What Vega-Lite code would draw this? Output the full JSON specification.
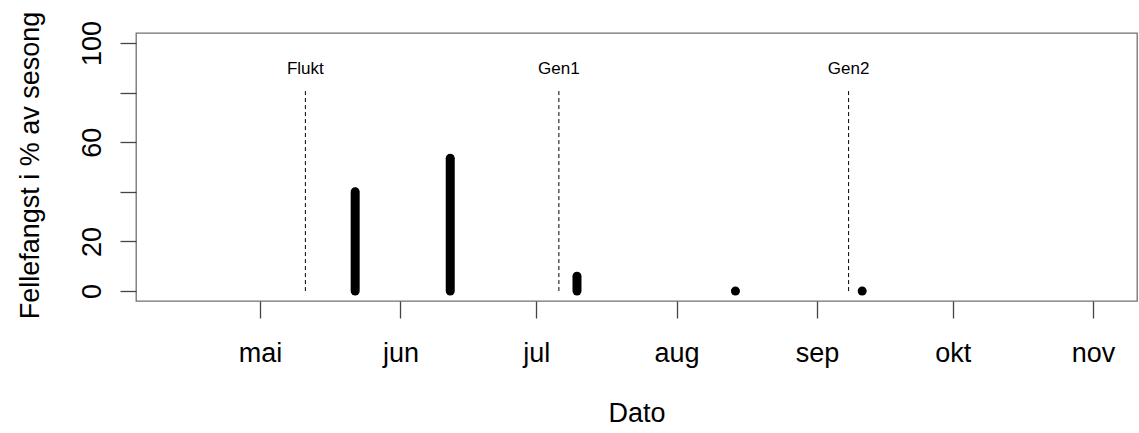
{
  "$schema": "https://vega.github.io/schema/vega-lite/v6.json",
  "width": 1001,
  "height": 268,
  "autosize": {"type": "none"},
  "padding": {"left": 136, "top": 33, "right": 2, "bottom": 132},
  "background": "white",
  "config": {
    "font": "Liberation Sans",
    "view": {"stroke": "#707070", "strokeWidth": 1.3},
    "axis": {"grid": false, "domain": false}
  },
  "datasets": {
    "catch": [
      {"date": "2021-05-22", "pct": 40},
      {"date": "2021-06-12", "pct": 53.5},
      {"date": "2021-07-10", "pct": 6},
      {"date": "2021-08-14", "pct": 0},
      {"date": "2021-09-11", "pct": 0}
    ],
    "events": [
      {"date": "2021-05-11", "label": "Flukt"},
      {"date": "2021-07-06", "label": "Gen1"},
      {"date": "2021-09-08", "label": "Gen2"}
    ]
  },
  "layer": [
    {
      "data": {"name": "events"},
      "mark": {"type": "rule", "color": "black", "strokeWidth": 1, "strokeDash": [4, 3]},
      "encoding": {
        "x": {
          "field": "date", "type": "temporal",
          "scale": {"type": "utc", "domain": [
            {"year": 2021, "month": 4, "date": 3, "hours": 14, "utc": true},
            {"year": 2021, "month": 11, "date": 10, "hours": 17, "utc": true}
          ], "nice": false},
          "axis": {
            "title": "Dato",
            "titleFontSize": 27, "titleFontWeight": "normal", "titleColor": "black",
            "titleBaseline": "alphabetic", "titleY": 120,
            "values": [
              {"year": 2021, "month": 5, "date": 1, "utc": true},
              {"year": 2021, "month": 6, "date": 1, "utc": true},
              {"year": 2021, "month": 7, "date": 1, "utc": true},
              {"year": 2021, "month": 8, "date": 1, "utc": true},
              {"year": 2021, "month": 9, "date": 1, "utc": true},
              {"year": 2021, "month": 10, "date": 1, "utc": true},
              {"year": 2021, "month": 11, "date": 1, "utc": true}
            ],
            "labelExpr": "['jan','feb','mar','apr','mai','jun','jul','aug','sep','okt','nov','des'][utcmonth(datum.value)]",
            "labelFontSize": 27, "labelColor": "black", "labelBaseline": "alphabetic",
            "labelPadding": 43, "tickSize": 17, "tickColor": "#444", "tickWidth": 1.3,
            "labelFlush": false, "labelOverlap": false
          }
        },
        "y": {
          "datum": 0, "type": "quantitative",
          "scale": {"domain": [-4, 104], "nice": false, "zero": false},
          "axis": {
            "title": "Fellefangst i % av sesong",
            "titleFontSize": 27, "titleFontWeight": "normal", "titleColor": "black",
            "titleAngle": 270, "titleBaseline": "alphabetic", "titleAlign": "center",
            "titleX": -98, "titleY": 132,
            "values": [0, 20, 40, 60, 80, 100],
            "labelExpr": "datum.value == 40 || datum.value == 80 ? '' : datum.label",
            "labelFontSize": 27, "labelColor": "black", "labelAngle": 270,
            "labelAlign": "center", "labelBaseline": "alphabetic",
            "labelPadding": 20, "tickSize": 16, "tickColor": "#444", "tickWidth": 1.3,
            "labelOverlap": false, "labelFlush": false
          }
        },
        "y2": {"datum": 81}
      }
    },
    {
      "data": {"name": "events"},
      "mark": {"type": "text", "fontSize": 17, "color": "black", "align": "center", "baseline": "middle"},
      "encoding": {
        "x": {"field": "date", "type": "temporal"},
        "y": {"datum": 89.5, "type": "quantitative"},
        "text": {"field": "label"}
      }
    },
    {
      "data": {"name": "catch"},
      "mark": {"type": "rule", "color": "black", "strokeWidth": 9, "strokeCap": "round"},
      "encoding": {
        "x": {"field": "date", "type": "temporal"},
        "y": {"field": "pct", "type": "quantitative"},
        "y2": {"datum": 0}
      }
    },
    {
      "data": {"name": "catch"},
      "mark": {"type": "point", "filled": true, "color": "black", "opacity": 1, "size": 64, "shape": "circle"},
      "encoding": {
        "x": {"field": "date", "type": "temporal"},
        "y": {"field": "pct", "type": "quantitative"}
      }
    }
  ]
}
